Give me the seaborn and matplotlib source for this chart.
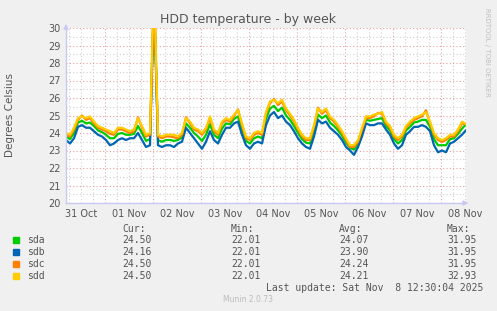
import matplotlib
matplotlib.use("Agg")
import matplotlib.pyplot as plt
import pandas as pd
import seaborn as sns

# Munin "by week" graph: one sample every 2 hours, starting Oct 31 04:30
HOURS = [2 * i for i in range(101)]

SDA = [
    23.8, 23.65, 24.0, 24.6, 24.7, 24.55, 24.6, 24.4, 24.15, 24.05,
    23.9, 23.7, 23.7, 23.95, 24.0, 23.9, 23.9, 23.95, 24.4, 24.0,
    23.55, 23.65, 31.95, 23.6, 23.5, 23.6, 23.6, 23.55, 23.6, 23.75,
    24.55, 24.3, 24.0, 23.8, 23.55, 23.9, 24.5, 23.9, 23.7, 24.25,
    24.55, 24.5, 24.8, 24.95, 24.2, 23.55, 23.4, 23.7, 23.8, 23.7,
    24.8, 25.4, 25.55, 25.25, 25.45, 25.0, 24.75, 24.4, 24.0, 23.65,
    23.45, 23.4, 24.1, 25.05, 24.85, 25.0, 24.6, 24.4, 24.15, 23.85,
    23.45, 23.15, 23.05, 23.4, 24.05, 24.75, 24.7, 24.75, 24.8, 24.85,
    24.4, 24.15, 23.65, 23.4, 23.6, 24.15, 24.35, 24.6, 24.65, 24.75,
    24.75, 24.35, 23.65, 23.3, 23.3, 23.3, 23.65, 23.7, 23.95, 24.25, 24.5,
]
SDB = [
    23.6, 23.4, 23.7, 24.35, 24.45, 24.3, 24.3, 24.1, 23.9, 23.8,
    23.6, 23.3, 23.4, 23.6, 23.7, 23.6, 23.7, 23.7, 24.0, 23.6,
    23.2, 23.3, 31.95, 23.3, 23.2, 23.3, 23.3, 23.2, 23.4, 23.5,
    24.3, 24.0, 23.7, 23.4, 23.1, 23.5, 24.1, 23.6, 23.4, 23.9,
    24.3, 24.3, 24.55, 24.65, 23.9, 23.3, 23.1, 23.4, 23.5, 23.4,
    24.45, 25.0, 25.2, 24.85, 25.0, 24.65, 24.45, 24.1, 23.7, 23.4,
    23.2, 23.1, 23.8, 24.75, 24.55, 24.65, 24.3, 24.1, 23.9, 23.6,
    23.2, 23.0, 22.75, 23.2, 23.8, 24.55, 24.45, 24.45, 24.55, 24.55,
    24.2, 23.9, 23.4, 23.1, 23.3, 23.9, 24.1, 24.35, 24.35, 24.45,
    24.35, 24.1, 23.3, 22.9, 23.0, 22.9, 23.4, 23.5, 23.7, 23.9, 24.16,
]
SDC = [
    23.9, 23.8, 24.2, 24.75, 25.0, 24.75, 24.85, 24.55, 24.3, 24.2,
    24.1, 23.95, 23.9, 24.2, 24.2, 24.1, 24.0, 24.1, 24.9, 24.3,
    23.8, 23.9, 31.95, 23.8, 23.7, 23.8, 23.8, 23.75, 23.7, 23.9,
    24.9, 24.55, 24.2, 24.1, 23.9, 24.2, 24.85, 24.1, 23.9, 24.55,
    24.75, 24.65, 24.95, 25.35, 24.45, 23.7, 23.6, 23.9, 24.0, 23.9,
    25.1, 25.7, 25.95, 25.6, 25.8, 25.3, 25.0, 24.65, 24.2, 23.8,
    23.6, 23.6, 24.35, 25.45, 25.1, 25.3, 24.85, 24.65, 24.35, 24.0,
    23.6, 23.2, 23.2, 23.5, 24.2, 24.85, 24.85, 24.95, 25.15, 25.1,
    24.55, 24.3, 23.8, 23.6, 23.8, 24.3, 24.55, 24.75, 24.85, 24.95,
    25.3, 24.55, 23.9, 23.6, 23.5, 23.6, 23.8, 23.8, 24.1, 24.55, 24.5,
]
SDD = [
    24.0, 23.9, 24.3, 24.85, 24.95, 24.85, 24.95, 24.65, 24.4, 24.3,
    24.2, 24.1, 24.0, 24.3, 24.3, 24.2, 24.1, 24.2, 24.85, 24.4,
    23.9, 24.0, 32.93, 23.9, 23.8, 23.9, 23.9, 23.9, 23.8, 24.0,
    24.85, 24.65, 24.3, 24.2, 24.0, 24.3, 24.95, 24.2, 24.0, 24.65,
    24.85, 24.75, 25.05, 25.3, 24.55, 23.8, 23.7, 24.0, 24.1, 24.0,
    25.2, 25.8, 25.9, 25.7, 25.9, 25.4, 25.1, 24.75, 24.3, 23.9,
    23.7, 23.7, 24.45, 25.4, 25.2, 25.4, 24.95, 24.75, 24.45, 24.1,
    23.7, 23.3, 23.3, 23.6, 24.3, 24.95, 24.95, 25.05, 25.1, 25.2,
    24.65, 24.4, 23.9, 23.7, 23.9, 24.4, 24.65, 24.85, 24.95, 25.05,
    25.2, 24.65, 24.0, 23.7, 23.6, 23.7, 23.9, 23.9, 24.2, 24.65, 24.5,
]

SERIES = ["sda", "sdb", "sdc", "sdd"]
COLORS = ["#00CC00", "#0066B3", "#FF8000", "#FFCC00"]
CUR = ["24.50", "24.16", "24.50", "24.50"]
MIN = ["22.01", "22.01", "22.01", "22.01"]
AVG = ["24.07", "23.90", "24.24", "24.21"]
MAX = ["31.95", "31.95", "31.95", "32.93"]

DAY_LABELS = ["31 Oct", "01 Nov", "02 Nov", "03 Nov", "04 Nov",
              "05 Nov", "06 Nov", "07 Nov", "08 Nov"]
NOON_HOURS = [7.5 + 24 * k for k in range(9)]

W, H = 497, 311
BG = "#F0F0F0"
TXT = "#555555"
AXIS = "#C8C8F0"


def fx(px):
    return px / W


def fy(py):
    return 1 - py / H


def main() -> None:
    sns.set_style("white")
    plt.rcParams["font.family"] = ["DejaVu Sans"]

    df = pd.DataFrame({"hour": HOURS * 4,
                       "temp": SDA + SDB + SDC + SDD,
                       "disk": [s for s in SERIES for _ in HOURS]})

    fig = plt.figure(figsize=(W / 100, H / 100), dpi=100, facecolor=BG)
    ax = fig.add_axes([fx(66), fy(203), fx(400), 175 / H])
    ax.set_facecolor("white")

    # grid: minor grey every 6h / 0.5 deg, major red at midnight / 1 deg
    for h in [1.5 + 6 * k for k in range(34)]:
        major = (h - 19.5) % 24 == 0
        ax.axvline(h, color="#E8A0A0" if major else "#D0D0D0",
                   lw=0.8, ls=(0, (1, 2)), zorder=0)
    for t in [20 + 0.5 * k for k in range(21)]:
        major = t == int(t)
        ax.axhline(t, color="#E8A0A0" if major else "#D0D0D0",
                   lw=0.8, ls=(0, (1, 2)), zorder=0)

    sns.lineplot(data=df, x="hour", y="temp", hue="disk", hue_order=SERIES,
                 palette=COLORS, linewidth=1.6, legend=False, ax=ax,
                 estimator=None, sort=False)

    ax.set_xlim(0, 200)
    ax.set_ylim(20, 30)
    ax.set_xticks(NOON_HOURS)
    ax.set_xticklabels(DAY_LABELS)
    ax.set_yticks(range(20, 31))
    ax.tick_params(length=0, labelsize=7, colors=TXT, pad=4)
    ax.set_xlabel("")
    ax.set_ylabel("")
    for side in ["top", "right"]:
        ax.spines[side].set_visible(False)
    for side in ["left", "bottom"]:
        ax.spines[side].set_color(AXIS)
        ax.spines[side].set_linewidth(1)

    # axis arrows
    ax.annotate("", xy=(0, 1.04), xytext=(0, 0.99), xycoords="axes fraction",
                arrowprops=dict(arrowstyle="-|>", color=AXIS, lw=1,
                                mutation_scale=7))
    ax.annotate("", xy=(1.013, 0), xytext=(0.99, 0), xycoords="axes fraction",
                arrowprops=dict(arrowstyle="-|>", color=AXIS, lw=1,
                                mutation_scale=7))

    fig.text(fx(248), fy(19), "HDD temperature - by week", ha="center",
             va="center", fontsize=9, color=TXT)
    fig.text(fx(10), fy(115), "Degrees Celsius", rotation=90, ha="center",
             va="center", fontsize=7.5, color=TXT)
    fig.text(fx(487), fy(8), "RRDTOOL / TOBI OETIKER", rotation=-90,
             ha="center", va="top", fontsize=5, color="#C0C0C0")

    mono = dict(family="DejaVu Sans Mono", fontsize=7, color=TXT, va="center")
    cols = [122, 231, 339, 447]
    for x, head in zip(cols, ["Cur:", "Min:", "Avg:", "Max:"]):
        fig.text(fx(x), fy(229), head, **mono)
    for k, name in enumerate(SERIES):
        y = 240 + 12 * k
        fig.patches.append(plt.Rectangle((fx(13), fy(y + 3)), fx(6), 6 / H,
                                         transform=fig.transFigure,
                                         color=COLORS[k]))
        fig.text(fx(27), fy(y), name, **mono)
        for x, val in zip(cols, [CUR[k], MIN[k], AVG[k], MAX[k]]):
            fig.text(fx(x), fy(y), val, **mono)
    fig.text(fx(483), fy(288), "Last update: Sat Nov  8 12:30:04 2025",
             ha="right", **mono)
    fig.text(fx(248), fy(300), "Munin 2.0.73", ha="center", va="center",
             fontsize=5.5, color="#BBBBBB")

    fig.savefig("out.png", dpi=100, facecolor=BG)
    plt.close(fig)


if __name__ == "__main__":
    main()
